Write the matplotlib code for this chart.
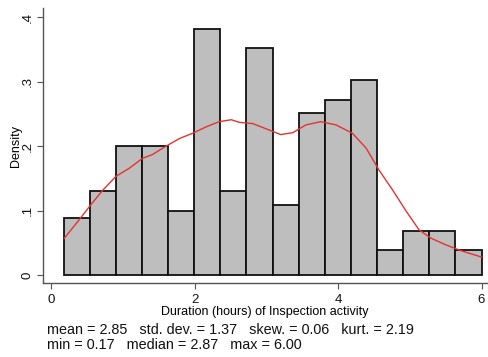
import numpy as np
import matplotlib
matplotlib.use("Agg")
import matplotlib.pyplot as plt

# histogram (density) of inspection duration, 16 bins between min and max
x_min, x_max, n_bins = 0.17, 6.00, 16
density = [0.089, 0.130, 0.200, 0.200, 0.100, 0.382, 0.130, 0.352,
           0.109, 0.251, 0.272, 0.302, 0.039, 0.069, 0.069, 0.039]

# kernel density curve
kde_x = [0.18, 0.39, 0.55, 0.72, 0.90, 1.09, 1.27, 1.41, 1.60, 1.79, 1.97,
         2.16, 2.34, 2.51, 2.62, 2.81, 3.04, 3.20, 3.37, 3.55, 3.76, 3.97,
         4.20, 4.39, 4.57, 4.76, 4.95, 5.13, 5.30, 5.50, 5.71, 6.00]
kde_y = [0.057, 0.086, 0.109, 0.132, 0.153, 0.166, 0.181, 0.187, 0.200, 0.212,
         0.220, 0.230, 0.238, 0.241, 0.237, 0.235, 0.225, 0.218, 0.221, 0.233,
         0.238, 0.233, 0.220, 0.197, 0.163, 0.132, 0.099, 0.070, 0.057, 0.047,
         0.038, 0.028]

x_ticks = [0, 2, 4, 6]
y_ticks = [0, 0.1, 0.2, 0.3, 0.4]
y_ticklabels = ["0", ".1", ".2", ".3", ".4"]

stats_line1 = "mean = 2.85   std. dev. = 1.37   skew. = 0.06   kurt. = 2.19"
stats_line2 = "min = 0.17   median = 2.87   max = 6.00"

plt.rcParams["font.family"] = ["Liberation Sans", "DejaVu Sans"]

fig = plt.figure(figsize=(4.88, 3.57), dpi=100)
ax = fig.add_axes([0.089, 0.207, 0.908, 0.77])

edges = np.linspace(x_min, x_max, n_bins + 1)
ax.bar(edges[:-1], density, width=np.diff(edges), align="edge",
       color="#bebebe", edgecolor="#111111", linewidth=1.3, zorder=2)
ax.plot(kde_x, kde_y, color="#e3342f", linewidth=1.0, zorder=3)

ax.set_xlim(-0.11, 6.07)
ax.set_ylim(-0.0124, 0.414)

for side in ["top", "right"]:
    ax.spines[side].set_visible(False)
for side in ["left", "bottom"]:
    ax.spines[side].set_color("#555555")
    ax.spines[side].set_linewidth(1.0)

ax.set_xticks(x_ticks)
ax.set_yticks(y_ticks)
ax.set_yticklabels(y_ticklabels, rotation=90, va="center")
ax.tick_params(axis="both", colors="#555555", length=4, width=0.8,
               labelcolor="#111111", labelsize=9.5)
ax.tick_params(axis="x", pad=4)
ax.tick_params(axis="y", pad=3)

ax.set_xlabel("Duration (hours) of Inspection activity", fontsize=9, labelpad=0)
ax.set_ylabel("Density", fontsize=9, labelpad=0)

fig.text(0.096, 0.075, stats_line1, fontsize=10.4, color="#111111", va="center")
fig.text(0.096, 0.035, stats_line2, fontsize=10.4, color="#111111", va="center")

fig.savefig("out.png", dpi=100)
